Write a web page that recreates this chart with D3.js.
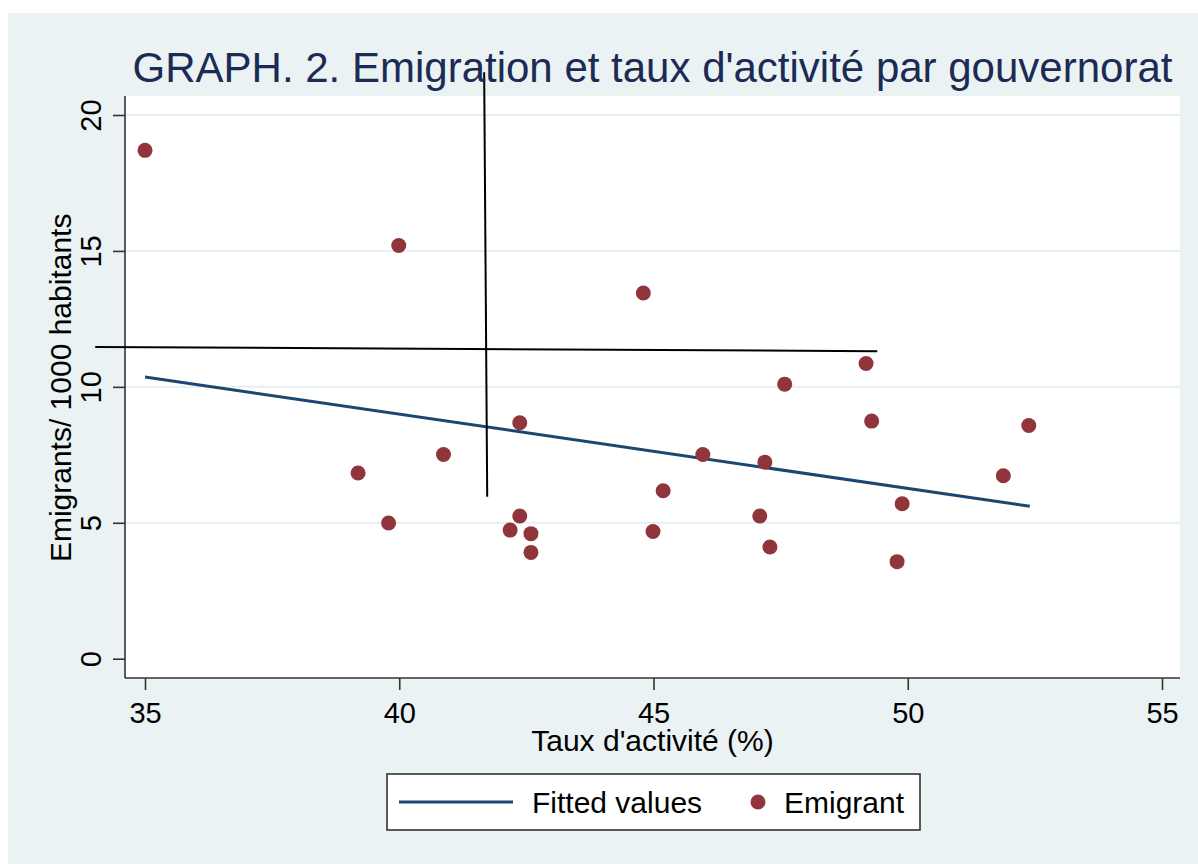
<!DOCTYPE html>
<html lang="fr">
<head>
  <meta charset="UTF-8">
  <title>Emigration et taux d'activité</title>
  <script src="https://d3js.org/d3.v7.min.js"></script>
  <style>
    body { margin: 0; background: #ffffff; }
    text { font-family: "Liberation Sans", Arial, sans-serif; }
  </style>
</head>
<body>
<svg id="chart"></svg>
<script>
  // Taux d'activité (%) per gouvernorat
  const tauxActivite = [35.00, 39.99, 44.80, 49.18, 47.58, 42.37, 49.29, 52.38, 40.87, 45.97, 47.19, 39.19,
                        51.88, 45.19, 49.89, 39.79, 42.37, 47.09, 42.18, 42.59, 44.99, 47.29, 42.59, 49.79];
  // Emigrants per 1000 habitants
  const emigrants = [18.70, 15.20, 13.45, 10.86, 10.10, 8.68, 8.74, 8.58, 7.51, 7.51, 7.23, 6.83,
                     6.73, 6.18, 5.70, 4.99, 5.25, 5.25, 4.73, 4.60, 4.68, 4.11, 3.91, 3.57];

  // fitted line endpoints
  const fittedX = [35.0, 52.40];
  const fittedY = [10.36, 5.61];

  // the two black hand-drawn lines, in data units
  const markVertical = [[41.67, 21.57], [41.73, 5.96]];
  const markHorizontal = [[34.02, 11.47], [49.40, 11.31]];

  const xTicks = [35, 40, 45, 50, 55];
  const yTicks = [0, 5, 10, 15, 20];
  const gridTicks = [5, 10, 15, 20];

  const W = 1198, H = 864;
  const plot = { left: 125, right: 1180, top: 96, bottom: 678 };
  const tickFont = 29, labelFont = 30;

  const svg = d3.select("#chart").attr("width", W).attr("height", H);

  // outer background
  svg.append("rect").attr("x", 8).attr("y", 13).attr("width", W - 8).attr("height", H - 13)
    .attr("fill", "#eaf2f3");
  // plot region
  svg.append("rect").attr("x", plot.left).attr("y", plot.top)
    .attr("width", plot.right - plot.left).attr("height", plot.bottom - plot.top)
    .attr("fill", "#ffffff");

  const x = d3.scaleLinear().domain([35, 55]).range([145, 1162]);
  const y = d3.scaleLinear().domain([0, 20]).range([658.7, 115]);

  // gridlines
  svg.append("g").selectAll("line").data(gridTicks).join("line")
    .attr("x1", plot.left).attr("x2", plot.right)
    .attr("y1", d => y(d)).attr("y2", d => y(d))
    .attr("stroke", "#e6eff2").attr("stroke-width", 2);

  // fitted line
  const line = d3.line().x(d => x(d[0])).y(d => y(d[1]));
  svg.append("path")
    .datum(fittedX.map((v, i) => [v, fittedY[i]]))
    .attr("d", line).attr("fill", "none")
    .attr("stroke", "#1a476f").attr("stroke-width", 3);

  // points
  svg.append("g").selectAll("circle").data(tauxActivite.map((v, i) => [v, emigrants[i]])).join("circle")
    .attr("cx", d => x(d[0])).attr("cy", d => y(d[1])).attr("r", 7.5)
    .attr("fill", "#90353b");

  // axes
  const xAxis = svg.append("g").attr("transform", `translate(0,${plot.bottom})`)
    .call(d3.axisBottom(x).tickValues(xTicks).tickSize(12).tickSizeOuter(0));
  xAxis.select(".domain").attr("d", `M${plot.left},0H${plot.right}`);
  xAxis.selectAll(".tick text").attr("y", 45).attr("dy", null);

  const yAxis = svg.append("g").attr("transform", `translate(${plot.left},0)`)
    .call(d3.axisLeft(y).tickValues(yTicks).tickSize(12).tickSizeOuter(0));
  yAxis.select(".domain").attr("d", `M0,${plot.top}V${plot.bottom}`);
  yAxis.selectAll(".tick text")
    .attr("x", null).attr("dy", null)
    .attr("text-anchor", "middle")
    .attr("transform", "translate(-24.5,0) rotate(-90)");

  [xAxis, yAxis].forEach(a => {
    a.selectAll(".domain, .tick line").attr("stroke", "#333333").attr("stroke-width", 1.6);
    a.selectAll(".tick text").attr("font-size", tickFont).attr("fill", "#000000")
      .style("font-family", '"Liberation Sans", Arial, sans-serif');
  });

  // black hand-drawn lines
  [markVertical, markHorizontal].forEach(m => {
    svg.append("path").datum(m).attr("d", line)
      .attr("fill", "none").attr("stroke", "#000000").attr("stroke-width", 2);
  });

  // title
  svg.append("text")
    .attr("x", (plot.left + plot.right) / 2).attr("y", 82)
    .attr("text-anchor", "middle").attr("font-size", 42).attr("fill", "#1c2b53")
    .text("GRAPH. 2. Emigration et taux d'activité par gouvernorat");

  // axis titles
  svg.append("text")
    .attr("x", (plot.left + plot.right) / 2).attr("y", 751)
    .attr("text-anchor", "middle").attr("font-size", labelFont)
    .text("Taux d'activité (%)");

  svg.append("text")
    .attr("transform", `translate(71,${(y(0) + y(20)) / 2 + 1}) rotate(-90)`)
    .attr("text-anchor", "middle").attr("font-size", labelFont)
    .text("Emigrants/ 1000 habitants");

  // legend
  const legend = svg.append("g");
  legend.append("rect").attr("x", 387).attr("y", 774).attr("width", 533).attr("height", 56)
    .attr("fill", "#ffffff").attr("stroke", "#333333").attr("stroke-width", 1.6);
  legend.append("line").attr("x1", 399).attr("x2", 513).attr("y1", 802).attr("y2", 802)
    .attr("stroke", "#1a476f").attr("stroke-width", 3);
  legend.append("text").attr("x", 532).attr("y", 812.5).attr("font-size", labelFont).text("Fitted values");
  legend.append("circle").attr("cx", 758).attr("cy", 802).attr("r", 7.5).attr("fill", "#90353b");
  legend.append("text").attr("x", 784).attr("y", 812.5).attr("font-size", labelFont).text("Emigrant");
</script>
</body>
</html>
